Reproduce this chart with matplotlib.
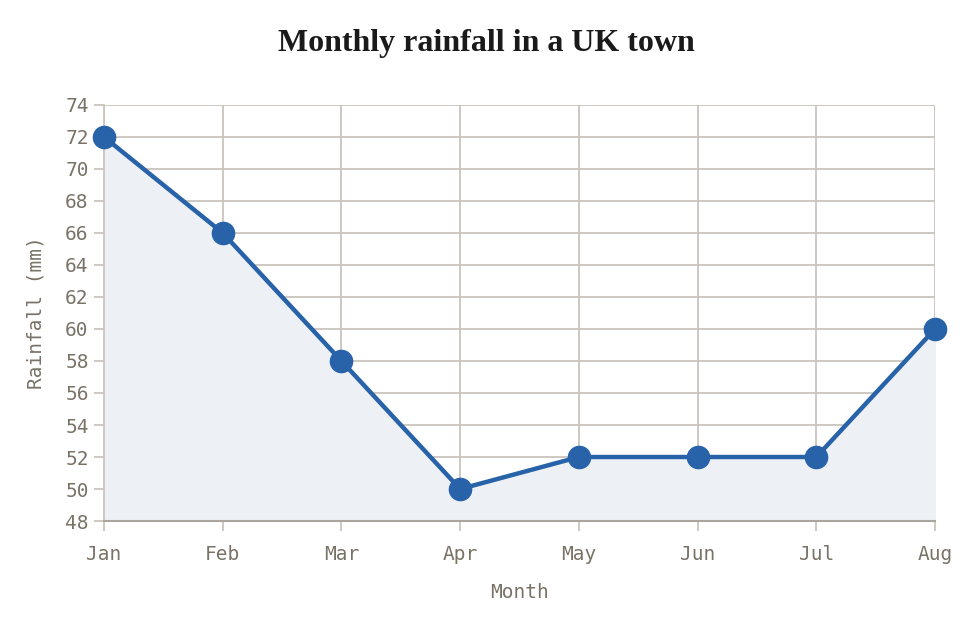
import matplotlib
matplotlib.use("Agg")
import matplotlib.pyplot as plt

months = ["Jan", "Feb", "Mar", "Apr", "May", "Jun", "Jul", "Aug"]
rainfall = [72, 66, 58, 50, 52, 52, 52, 60]
yticks = list(range(48, 75, 2))

line_col = "#2862a8"
grid_col = "#c9c5bd"
text_col = "#7a7267"

fig = plt.figure(figsize=(9.72, 6.21), dpi=100)
ax = fig.add_axes([0.107, 0.161, 0.855, 0.670])

x = list(range(len(months)))
ax.fill_between(x, rainfall, 48, color="#edf1f6", zorder=1)
ax.plot(x, rainfall, color=line_col, lw=3.2, marker="o", ms=16,
        zorder=3, clip_on=False)

ax.set_xlim(0, len(months) - 1)
ax.set_ylim(48, 74)
ax.set_xticks(x)
ax.set_xticklabels(months)
ax.set_yticks(yticks)

ax.grid(True, color=grid_col, lw=1.3, zorder=0)
ax.set_axisbelow(True)
for s in ax.spines.values():
    s.set_visible(False)
ax.spines["bottom"].set_visible(True)
ax.spines["bottom"].set_color("#aaa69e")
ax.spines["bottom"].set_linewidth(1.5)
ax.spines["left"].set_visible(True)
ax.spines["left"].set_color(grid_col)
ax.spines["left"].set_linewidth(1.3)

ax.tick_params(colors=grid_col, labelcolor=text_col, length=7, width=1.3,
               labelsize=14)
ax.tick_params(axis="x", pad=10)
ax.tick_params(axis="y", pad=4)
for lab in ax.get_xticklabels() + ax.get_yticklabels():
    lab.set_family("DejaVu Sans Mono")

ax.set_xlabel("Month", family="DejaVu Sans Mono", fontsize=14,
              color=text_col, labelpad=14)
ax.set_ylabel("Rainfall (mm)", family="DejaVu Sans Mono", fontsize=14,
              color=text_col, labelpad=14)

fig.text(0.5, 0.93, "Monthly rainfall in a UK town", ha="center",
         va="center", family="Liberation Serif", fontweight="bold",
         fontsize=23, color="#1a1a1a")

fig.savefig("out.png", dpi=100)
